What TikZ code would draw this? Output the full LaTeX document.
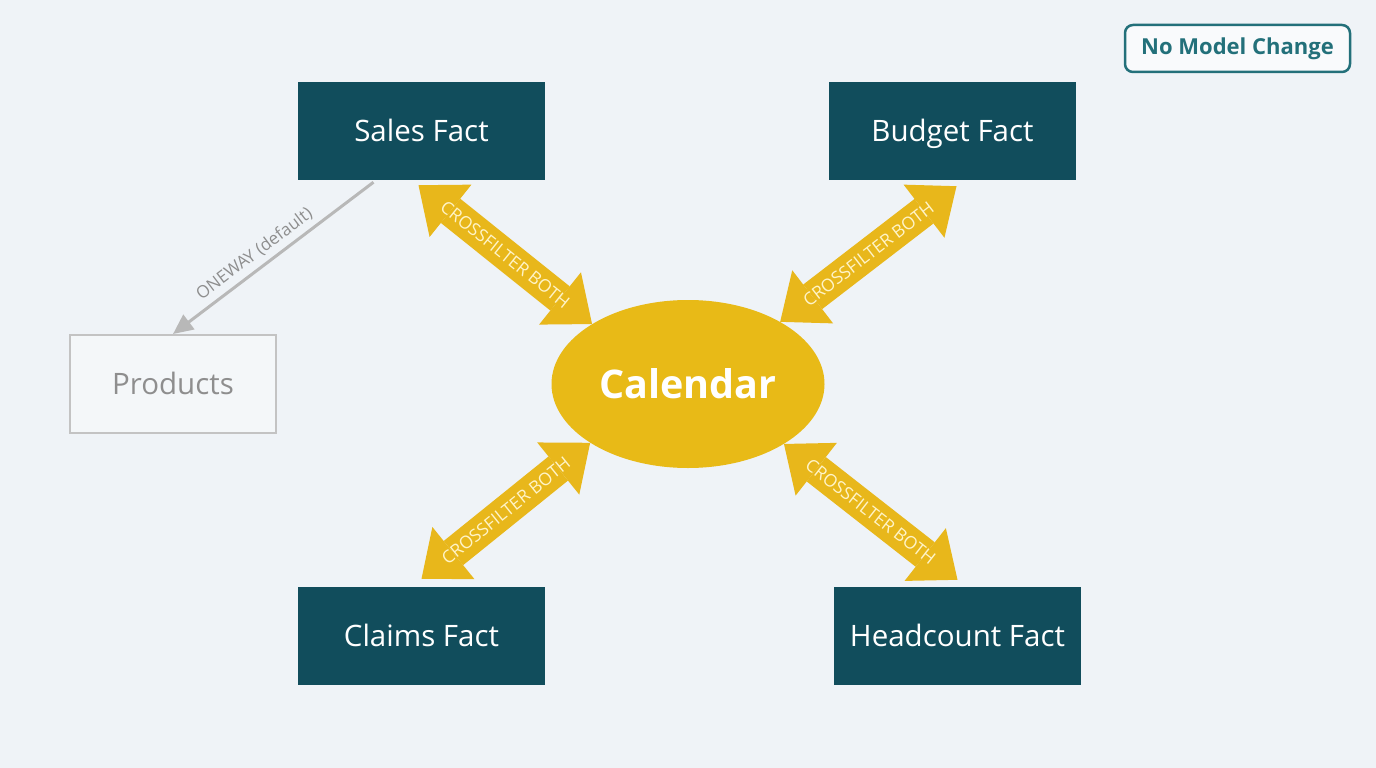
\documentclass[tikz,border=0pt]{standalone}
\usepackage{fontspec}
\setmainfont{Open Sans}
\usepackage{tikz}
\usetikzlibrary{arrows.meta,shapes.geometric}

\definecolor{bgcol}{HTML}{EFF3F7}
\definecolor{factcol}{HTML}{114D5C}
\definecolor{calcol}{HTML}{E8BA17}
\definecolor{arrowcol}{HTML}{E8B71B}
\definecolor{tagcol}{HTML}{23707A}
\definecolor{greyline}{HTML}{B8B8B8}
\definecolor{greytext}{HTML}{8E8E8E}
\definecolor{labelcol}{HTML}{FFF4C8}

\begin{document}
\begin{tikzpicture}[x=1pt, y=-1pt,
    fact/.style={fill=factcol, text=white, minimum width=247pt, minimum height=98pt, inner sep=0pt,
                 text height=21pt, text depth=0pt, font=\fontsize{29.5}{34}\selectfont},
    cross/.style={draw=arrowcol, line width=31pt, {Triangle[width=67pt,length=41pt,line width=0pt]}-{Triangle[width=67pt,length=41pt,line width=0pt]}},
    crosslabel/.style={midway, sloped, text=labelcol, font=\fontsize{17.5}{20}\selectfont}]

    % 背景
    \fill[bgcol] (0,0) rectangle (1376,768);

    % ファクトテーブル
    \node[fact] (sales) at (421.5,131) {Sales Fact};
    \node[fact] (budget) at (952.5,131) {Budget Fact};
    \node[fact] (claims) at (421.5,636) {Claims Fact};
    \node[fact] (headcount) at (957.5,636) {Headcount Fact};

    % 中央のカレンダー
    \node[ellipse, fill=calcol, text=white, minimum width=273pt, minimum height=168pt, inner sep=0pt,
          text height=28pt, text depth=0pt, font=\fontsize{39.5}{46}\selectfont\bfseries] (calendar) at (688,384) {Calendar};

    % 製品テーブル
    \node[draw=greyline!85, line width=2pt, fill=bgcol!70!white, text=greytext, minimum width=206pt, minimum height=98pt,
          inner sep=0pt, text height=21pt, text depth=0pt, font=\fontsize{29.5}{34}\selectfont] (products) at (173,384) {Products};

    % 双方向フィルター
    \draw[cross] ([xshift=-3pt,yshift=-5pt]sales.south) -- (calendar.148) node[crosslabel] {CROSSFILTER BOTH};
    \draw[cross] ([xshift=4pt,yshift=-6pt]budget.south) -- (calendar.34) node[crosslabel] {CROSSFILTER BOTH};
    \draw[cross] ([yshift=8pt]claims.north) -- (calendar.211) node[crosslabel] {CROSSFILTER BOTH};
    \draw[cross] ([yshift=7pt]headcount.north) -- (calendar.328) node[crosslabel] {CROSSFILTER BOTH};

    % 単方向フィルター
    \draw[greyline, line width=3pt, {Triangle[width=18pt,length=20pt]}-] (products.north) -- ([xshift=-48pt,yshift=-2pt]sales.south)
        node[pos=0.45, sloped, above=2pt, text=greytext, font=\fontsize{17}{20}\selectfont] {ONEWAY (default)};

    % 注記
    \node[draw=tagcol, line width=2.5pt, rounded corners=8pt, fill=bgcol!40!white, text=tagcol, minimum width=225pt,
          minimum height=47pt, inner sep=0pt, font=\fontsize{22}{26}\selectfont\bfseries] (tag) at (1237.5,48.5) {No Model Change};
\end{tikzpicture}
\end{document}
